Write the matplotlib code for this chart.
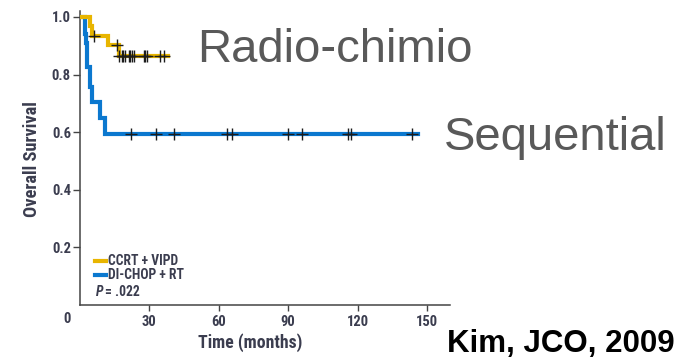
import matplotlib
matplotlib.use("Agg")
import matplotlib.pyplot as plt
from matplotlib.lines import Line2D
from matplotlib import font_manager

# Kaplan-Meier step data (months, survival probability)
ccrt_times = [0, 4.3, 5.2, 12.0, 16.8]
ccrt_surv = [1.0, 0.967, 0.935, 0.903, 0.866]
ccrt_end = 38.0
ccrt_censor_t = [6.0, 16.0, 17.0, 18.0, 18.7, 19.5, 21.0, 21.7, 22.5, 23.2,
                 27.5, 28.2, 29.0, 34.8, 36.3]

chop_times = [0, 2.2, 2.6, 3.0, 4.3, 5.3, 8.6, 10.8]
chop_surv = [1.0, 0.94, 0.91, 0.826, 0.757, 0.705, 0.649, 0.594]
chop_end = 146.0
chop_censor_t = [22.0, 32.8, 40.6, 63.4, 65.6, 89.8, 96.2, 116.0, 117.0, 143.7]

x_ticks = [30, 60, 90, 120, 150]
y_ticks = [0.2, 0.4, 0.6, 0.8, 1.0]
legend_labels = ["CCRT + VIPD", "DI-CHOP + RT"]
p_text = ".022"

YELLOW = "#E8B500"
BLUE = "#0B78CF"
INK = "#3b3d4f"

# pick a narrow sans face for the chart labels
entries = font_manager.fontManager.ttflist
names = {f.name for f in entries}
narrow_props = None
for cand in ("Liberation Sans Narrow", "Roboto Condensed", "Open Sans Condensed",
             "DejaVu Sans Condensed"):
    if cand in names:
        narrow_props = dict(family=cand, stretch="normal")
        break
if narrow_props is None:
    has_cond = any(f.name == "DejaVu Sans" and f.stretch in ("condensed", "semi-condensed")
                   for f in entries)
    if has_cond:
        narrow_props = dict(family="DejaVu Sans", stretch="condensed")
    else:
        narrow_props = dict(family="Liberation Sans", stretch="normal")


def nfont(size, weight="bold", style="normal"):
    return font_manager.FontProperties(family=narrow_props["family"],
                                       stretch=narrow_props["stretch"],
                                       weight=weight, style=style, size=size)


W, H = 685, 360
fig = plt.figure(figsize=(W / 100, H / 100), dpi=100)
ax = fig.add_axes([80 / W, 1 - 305 / H, 370 / W, (305 - 11.2) / H])


def step_series(times, surv, end):
    xs = list(times) + [end]
    ys = list(surv) + [surv[-1]]
    return xs, ys


def level_at(times, surv, t):
    s = surv[0]
    for ti, si in zip(times, surv):
        if ti <= t:
            s = si
    return s


bx, by = step_series(chop_times, chop_surv, chop_end)
ax.step(bx, by, where="post", color=BLUE, lw=3.0, solid_joinstyle="miter", zorder=2)
yx, yy = step_series(ccrt_times, ccrt_surv, ccrt_end)
ax.step(yx, yy, where="post", color=YELLOW, lw=3.0, solid_joinstyle="miter", zorder=3)

ax.plot(chop_censor_t, [level_at(chop_times, chop_surv, t) for t in chop_censor_t],
        ls="none", marker="+", ms=8, mew=1.0, color="#1c1c1c", zorder=4)
ax.plot(ccrt_censor_t, [level_at(ccrt_times, ccrt_surv, t) for t in ccrt_censor_t],
        ls="none", marker="+", ms=8, mew=1.0, color="#1c1c1c", zorder=4)

ax.set_xlim(0, 160)
ax.set_ylim(0, 1.02)
ax.set_xticks(x_ticks)
ax.set_yticks(y_ticks)
ax.set_xticklabels([str(v) for v in x_ticks])
ax.set_yticklabels([f"{v:.1f}" for v in y_ticks])
for lab in ax.get_xticklabels() + ax.get_yticklabels():
    lab.set_fontproperties(nfont(10.5))
    lab.set_color(INK)
ax.tick_params(axis="y", length=5, width=1.0, pad=1.5, color="#444")
ax.tick_params(axis="x", length=4, width=1.0, pad=3, color="#444")
for side in ("top", "right"):
    ax.spines[side].set_visible(False)
for side in ("left", "bottom"):
    ax.spines[side].set_linewidth(1.1)
    ax.spines[side].set_color("#444")

# shared origin label
fig.text(67 / W, 1 - 319 / H, "0", ha="center", va="center",
         fontproperties=nfont(10.5), color=INK)

fig.text(32 / W, 1 - 159 / H, "Overall Survival", rotation=90, ha="center", va="center",
         fontproperties=nfont(13.3), color=INK)
fig.text(250 / W, 1 - 343 / H, "Time (months)", ha="center", va="center",
         fontproperties=nfont(12.8), color=INK)

# legend: short colour bars with labels
for color, label, ypx in zip([YELLOW, BLUE], legend_labels, [261, 275]):
    fig.add_artist(Line2D([95 / W, 106 / W], [1 - ypx / H, 1 - ypx / H],
                          color=color, lw=3, transform=fig.transFigure))
    fig.text(108 / W, 1 - ypx / H, label, ha="left", va="center",
             fontproperties=nfont(9.8), color=INK)
fig.text(96 / W, 1 - 292 / H, "P", ha="left", va="center",
         fontproperties=nfont(9.8, style="italic"), color=INK)
fig.text(105 / W, 1 - 292 / H, "= " + p_text, ha="left", va="center",
         fontproperties=nfont(9.8), color=INK)

fig.text(197 / W, 1 - 50 / H, "Radio-chimio", ha="left", va="center",
         fontsize=34, family="Liberation Sans", color="#595959")
fig.text(444 / W, 1 - 138 / H, "Sequential", ha="left", va="center",
         fontsize=34, family="Liberation Sans", color="#595959")
fig.text(447 / W, 1 - 344 / H, "Kim, JCO, 2009", ha="left", va="center",
         fontsize=22.5, fontweight="bold", family="Liberation Sans", color="black")

fig.savefig("out.png", dpi=100)
